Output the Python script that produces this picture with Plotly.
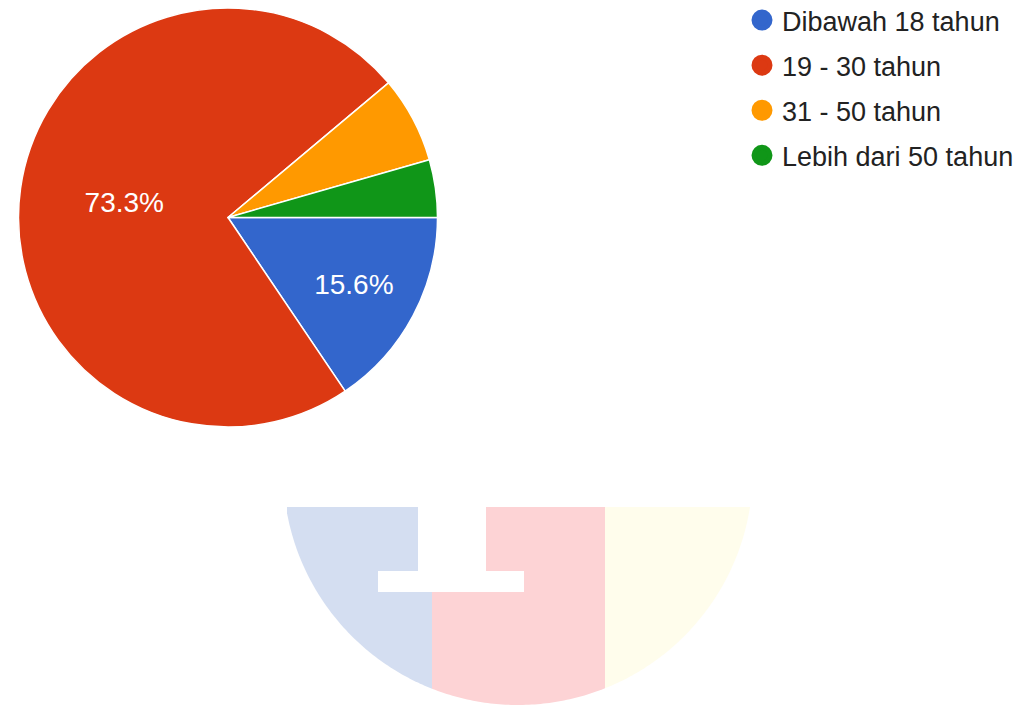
import numpy as np
import plotly.graph_objects as go

categories = ["Dibawah 18 tahun", "19 - 30 tahun", "31 - 50 tahun", "Lebih dari 50 tahun"]
counts = [7, 33, 3, 2]
colors = ["#3366cc", "#dc3912", "#ff9900", "#109618"]
shown_labels = ["%{percent:.1%}", "%{percent:.1%}", "", ""]

W, H = 1032, 706
OFF = 8  # page body margin

def px(x):
    return (x - OFF) / W

def py(y):
    return 1 - (y - OFF) / H

fig = go.Figure()
fig.add_trace(go.Pie(
    labels=categories, values=counts, sort=False, direction="clockwise", rotation=90,
    marker=dict(colors=colors, line=dict(color="white", width=1.5)),
    texttemplate=shown_labels, textposition="inside", insidetextorientation="horizontal",
    textfont=dict(family="Liberation Sans, Arial", size=28, color="white"),
    showlegend=False, hoverinfo="label+percent",
    domain=dict(x=[px(228 - 209.5), px(228 + 209.5)], y=[py(427), py(8)]),
))

# legend entries with circular markers
for name, col in zip(categories, colors):
    fig.add_trace(go.Scatter(
        x=[None], y=[None], mode="markers", name=name,
        marker=dict(color=col, size=16, symbol="circle", line=dict(color=col, width=5)),
        legendgroup=name,
    ))

# faint watermark logo (decoration)
cx, cy, r, ytop = 518, 470, 235, 507
bands = [(287, 432, "#d4def1"), (432, 605, "#fdd3d5"), (605, 750, "#fffdec")]
shapes = []
for x0, x1, col in bands:
    xs = np.linspace(x0, x1, 60)
    ys = cy + np.sqrt(np.clip(r**2 - (xs - cx) ** 2, 0, None))
    ys = np.maximum(ys, ytop)
    pts = [(x0, ytop)] + list(zip(xs, ys)) + [(x1, ytop)]
    path = "M " + " L ".join(f"{px(a):.5f},{py(b):.5f}" for a, b in pts) + " Z"
    shapes.append(dict(type="path", path=path, xref="paper", yref="paper",
                       fillcolor=col, line=dict(width=0), layer="below"))
# T cut-out
shapes.append(dict(type="rect", xref="paper", yref="paper", x0=px(418), x1=px(486),
                   y0=py(575), y1=py(505), fillcolor="white", line=dict(width=0), layer="below"))
shapes.append(dict(type="rect", xref="paper", yref="paper", x0=px(378), x1=px(524),
                   y0=py(592), y1=py(571), fillcolor="white", line=dict(width=0), layer="below"))

fig.update_layout(
    width=W, height=H,
    margin=dict(l=0, r=0, t=0, b=0, autoexpand=False),
    paper_bgcolor="white", plot_bgcolor="rgba(0,0,0,0)",
    xaxis=dict(visible=False), yaxis=dict(visible=False),
    shapes=shapes,
    legend=dict(x=px(742), y=py(-4), xanchor="left", yanchor="top",
                font=dict(family="Liberation Sans, Arial", size=27, color="#222222"),
                tracegroupgap=7, itemsizing="trace", bgcolor="rgba(0,0,0,0)"),
)

fig.write_html("out.html")
